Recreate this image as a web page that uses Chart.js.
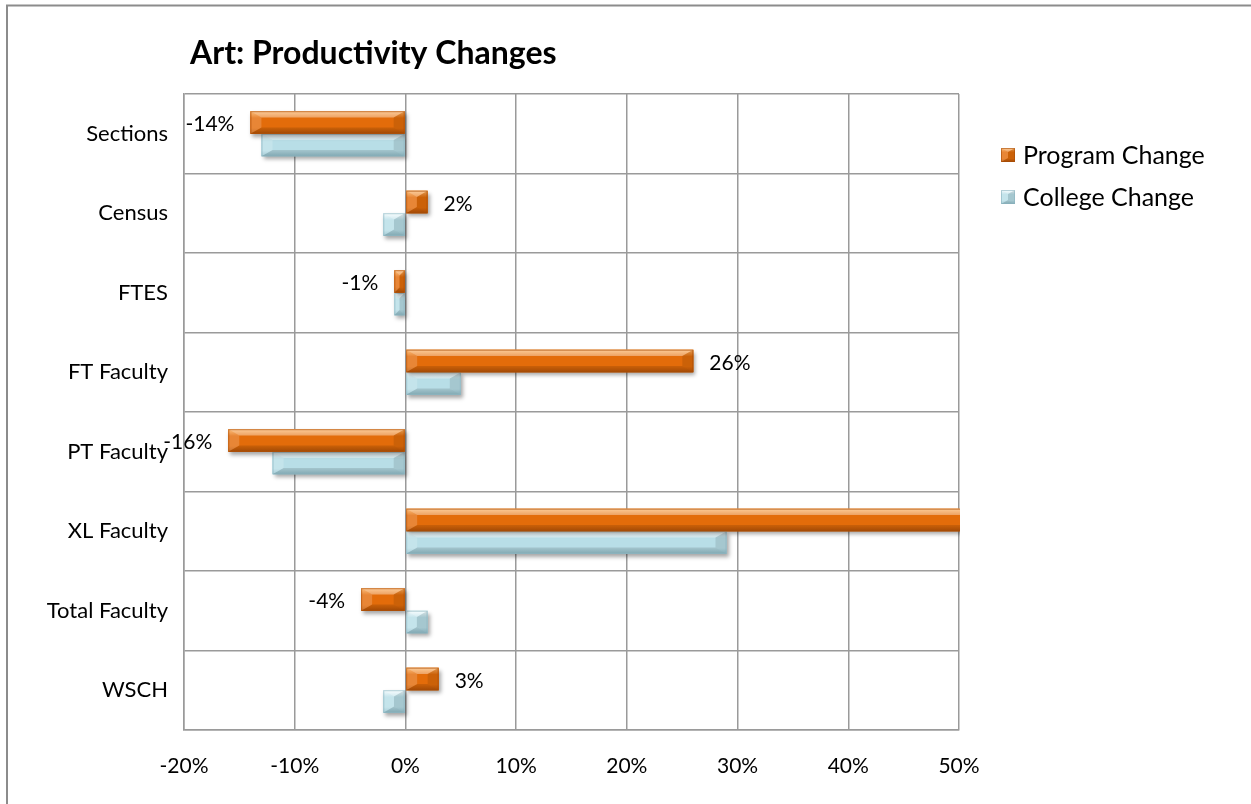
<!DOCTYPE html>
<html>
<head>
<meta charset="utf-8">
<script src="https://cdn.jsdelivr.net/npm/chart.js@4.4.1/dist/chart.umd.min.js"></script>
<style>
  html, body { margin: 0; padding: 0; background: #ffffff; }
  #wrap { position: relative; width: 1251px; height: 804px; }
  canvas { display: block; }
</style>
</head>
<body>
<div id="wrap"><canvas id="c" width="1251" height="804"></canvas></div>
<script>
// ---- data ----
const chartTitle = 'Art: Productivity Changes';
const categories = ['Sections', 'Census', 'FTES', 'FT Faculty', 'PT Faculty', 'XL Faculty', 'Total Faculty', 'WSCH'];
const seriesNames = ['Program Change', 'College Change'];
const programChange = [-14, 2, -1, 26, -16, 60, -4, 3];
const collegeChange = [-13, -2, -1, 5, -12, 29, 2, -2];
const xTicks = [-20, -10, 0, 10, 20, 30, 40, 50];

const FONT = 'Lato, "Open Sans", "DejaVu Sans", sans-serif';
const palette = [
  { base: '#E36C0A', light: '#FBB060', dark: '#B85406', border: '#A84C06' },
  { base: '#B8DEE7', light: '#F4FCFE', dark: '#93C0CC', border: '#8BB3BE' }
];

function drawBevelRect(ctx, left, top, right, bottom, pal, shadow) {
  const w = right - left, h = bottom - top;
  if (w <= 0 || h <= 0) return;
  ctx.save();
  if (shadow) {
    ctx.shadowColor = 'rgba(0,0,0,0.35)';
    ctx.shadowBlur = 4;
    ctx.shadowOffsetX = 2;
    ctx.shadowOffsetY = 3;
  }
  ctx.fillStyle = pal.base;
  ctx.fillRect(left, top, w, h);
  ctx.restore();
  ctx.save();
  const g = ctx.createLinearGradient(0, top, 0, bottom);
  g.addColorStop(0, pal.light);
  g.addColorStop(0.3, pal.base);
  g.addColorStop(0.75, pal.base);
  g.addColorStop(1, pal.dark);
  ctx.fillStyle = g;
  ctx.fillRect(left, top, w, h);
  const d = Math.min(h / 2, w / 2, 11);
  const dv = Math.min(d, h * 0.28);
  ctx.beginPath();
  ctx.moveTo(left, top); ctx.lineTo(right, top);
  ctx.lineTo(right - d, top + dv); ctx.lineTo(left + d, top + dv); ctx.closePath();
  ctx.fillStyle = 'rgba(255,255,255,0.35)'; ctx.fill();
  ctx.beginPath();
  ctx.moveTo(left, bottom); ctx.lineTo(right, bottom);
  ctx.lineTo(right - d, bottom - dv); ctx.lineTo(left + d, bottom - dv); ctx.closePath();
  ctx.fillStyle = 'rgba(0,0,0,0.12)'; ctx.fill();
  ctx.beginPath();
  ctx.moveTo(left, top); ctx.lineTo(left + d, top + dv);
  ctx.lineTo(left + d, bottom - dv); ctx.lineTo(left, bottom); ctx.closePath();
  ctx.fillStyle = 'rgba(255,255,255,0.18)'; ctx.fill();
  ctx.beginPath();
  ctx.moveTo(right, top); ctx.lineTo(right - d, top + dv);
  ctx.lineTo(right - d, bottom - dv); ctx.lineTo(right, bottom); ctx.closePath();
  ctx.fillStyle = 'rgba(0,0,0,0.10)'; ctx.fill();
  ctx.strokeStyle = pal.border;
  ctx.lineWidth = 1;
  ctx.globalAlpha = 0.6;
  ctx.strokeRect(left + 0.5, top + 0.5, w - 1, h - 1);
  ctx.restore();
}

const decorPlugin = {
  id: 'decor',
  beforeDraw(chart) {
    const ctx = chart.ctx;
    ctx.save();
    ctx.fillStyle = '#ffffff';
    ctx.fillRect(0, 0, chart.width, chart.height);
    ctx.strokeStyle = '#8c8c8c';
    ctx.lineWidth = 2;
    ctx.beginPath();
    ctx.moveTo(7, chart.height); ctx.lineTo(7, 5.5); ctx.lineTo(chart.width, 5.5);
    ctx.stroke();
    ctx.restore();
  },
  afterDatasetsDraw(chart) {
    const ctx = chart.ctx;
    const area = chart.chartArea;
    ctx.save();
    ctx.beginPath();
    ctx.rect(area.left, area.top, area.right - area.left + 1, area.bottom - area.top);
    ctx.clip();
    [1, 0].forEach(di => {
      const meta = chart.getDatasetMeta(di);
      meta.data.forEach(el => {
        const p = el.getProps(['x', 'y', 'base', 'height'], true);
        const left = Math.min(p.x, p.base), right = Math.max(p.x, p.base);
        drawBevelRect(ctx, left, p.y - p.height / 2, right, p.y + p.height / 2, palette[di], true);
      });
    });
    ctx.restore();

    // data labels for program change (outside end)
    ctx.save();
    ctx.font = '21px ' + FONT;
    ctx.fillStyle = '#000000';
    ctx.textBaseline = 'middle';
    const meta0 = chart.getDatasetMeta(0);
    meta0.data.forEach((el, i) => {
      const v = programChange[i];
      const p = el.getProps(['x', 'y'], true);
      const txt = v + '%';
      if (v >= 0) {
        const lx = p.x + 16;
        if (lx > area.right) return;
        ctx.textAlign = 'left';
        ctx.fillText(txt, lx, p.y + 2);
      } else {
        const lx = p.x - 16;
        if (lx < area.left - 40) return;
        ctx.textAlign = 'right';
        ctx.fillText(txt, lx, p.y + 2);
      }
    });
    ctx.restore();

    // title
    ctx.save();
    ctx.font = 'bold 32px ' + FONT;
    ctx.fillStyle = '#000000';
    ctx.textAlign = 'left';
    ctx.textBaseline = 'alphabetic';
    ctx.fillText(chartTitle, 190, 64);
    ctx.restore();

    // legend
    ctx.save();
    ctx.font = '25px ' + FONT;
    ctx.textBaseline = 'middle';
    ctx.textAlign = 'left';
    chart.data.datasets.forEach((ds, i) => {
      const cy = 155 + i * 42;
      drawBevelRect(ctx, 1001, cy - 7, 1015, cy + 7, palette[i], false);
      ctx.fillStyle = '#000000';
      ctx.fillText(ds.label, 1023, cy + 1);
    });
    ctx.restore();
  }
};

new Chart(document.getElementById('c'), {
  type: 'bar',
  data: {
    labels: categories,
    datasets: [
      { label: seriesNames[0], data: programChange, backgroundColor: palette[0].base, borderWidth: 0 },
      { label: seriesNames[1], data: collegeChange, backgroundColor: palette[1].base, borderWidth: 0 }
    ]
  },
  options: {
    indexAxis: 'y',
    responsive: false,
    animation: false,
    devicePixelRatio: 1,
    layout: { padding: { top: 94, right: 292, left: 0, bottom: 0 } },
    datasets: { bar: { categoryPercentage: 0.566, barPercentage: 1.0 } },
    plugins: {
      legend: { display: false },
      title: { display: false },
      tooltip: { enabled: false }
    },
    scales: {
      x: {
        type: 'linear',
        min: xTicks[0],
        max: xTicks[xTicks.length - 1],
        afterBuildTicks(scale) { scale.ticks = xTicks.map(v => ({ value: v })); },
        afterFit(scale) { scale.height = 74; },
        grid: { color: '#9a9a9a', lineWidth: 1.5, drawTicks: false },
        border: { color: '#9a9a9a', width: 1.5 },
        ticks: {
          padding: 24,
          color: '#000000',
          font: { family: FONT, size: 21 },
          callback: v => v + '%'
        }
      },
      y: {
        afterFit(scale) { scale.width = 184; },
        grid: { color: '#9a9a9a', lineWidth: 1.5, drawTicks: false },
        border: { color: '#9a9a9a', width: 1.5 },
        ticks: {
          padding: 16,
          color: '#000000',
          font: { family: FONT, size: 22 }
        }
      }
    }
  },
  plugins: [decorPlugin]
});
</script>
</body>
</html>
